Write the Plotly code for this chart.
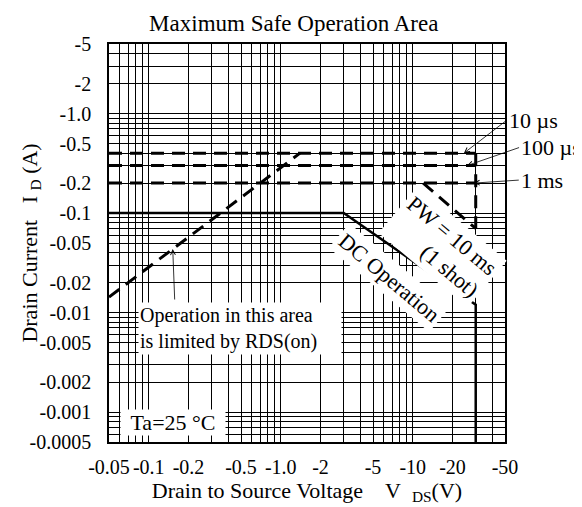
import numpy as np
import plotly.graph_objects as go

# ---- axis ticks (values as printed on the chart) ----
x_tickvals = [-0.05, -0.1, -0.2, -0.5, -1.0, -2, -5, -10, -20, -50]
x_ticktext = ["-0.05", "-0.1", "-0.2", "-0.5", "-1.0", "-2", "-5", "-10", "-20", "-50"]
y_tickvals = [-5, -2, -1.0, -0.5, -0.2, -0.1, -0.05, -0.02, -0.01, -0.005, -0.002, -0.001, -0.0005]
y_ticktext = ["-5", "-2", "-1.0", "-0.5", "-0.2", "-0.1", "-0.05", "-0.02", "-0.01",
              "-0.005", "-0.002", "-0.001", "-0.0005"]

# ---- curves (V_DS in V, I_D in A) ----
pw10us_v = [-0.05, -30]
pw10us_i = [-0.4, -0.4]
pw100us_v = [-0.05, -30]
pw100us_i = [-0.3, -0.3]
pw1ms_v = [-0.05, -30]
pw1ms_i = [-0.2, -0.2]
pw10ms_v = [-12, -30]
pw10ms_i = [-0.2, -0.07]
pulse_edge_v = [-30, -30]
pulse_edge_i = [-0.4, -0.07]
dc_v = [-0.05, -3, -30, -30]
dc_i = [-0.1, -0.1, -0.012, -0.0005]
rds_v = [-0.05, -1.4]
rds_i = [-0.0143, -0.4]

FONT = "Liberation Serif"


def mag(a):
    return np.abs(np.array(a, dtype=float))


def lg(v):
    return float(np.log10(abs(v)))


def minor_vals(lo, hi):
    out = []
    for e in range(-5, 3):
        for m in range(1, 10):
            v = m * 10.0 ** e
            if lo * 0.999 <= v <= hi * 1.001:
                out.append(v)
    return out


fig = go.Figure()
dash_style = dict(color="black", width=3, dash="13px,8px")
for vv, ii in [(pw10us_v, pw10us_i), (pw100us_v, pw100us_i), (pw1ms_v, pw1ms_i),
               (pw10ms_v, pw10ms_i), (pulse_edge_v, pulse_edge_i), (rds_v, rds_i)]:
    fig.add_trace(go.Scatter(x=mag(vv), y=mag(ii), mode="lines", line=dash_style,
                             showlegend=False, hoverinfo="skip"))
fig.add_trace(go.Scatter(x=mag(dc_v), y=mag(dc_i), mode="lines",
                         line=dict(color="black", width=2.5), showlegend=False, hoverinfo="skip"))

grid = dict(showgrid=True, gridcolor="black", gridwidth=1)

fig.update_xaxes(type="log", range=[lg(-0.05), lg(-50)], automargin=False,
                 tickmode="array", tickvals=mag(x_tickvals), ticktext=x_ticktext,
                 ticks="", ticklabelstandoff=6,
                 showline=True, linecolor="black", linewidth=1.5, mirror=True,
                 minor=dict(tickmode="array", tickvals=minor_vals(0.05, 50), **grid),
                 tickfont=dict(family=FONT, size=20, color="black"),
                 title=dict(text="Drain to Source Voltage\u00a0\u00a0\u00a0\u00a0V\u00a0\u00a0<sub>DS</sub>(V)",
                            font=dict(family=FONT, size=22, color="black"), standoff=2),
                 **grid)
fig.update_yaxes(type="log", range=[lg(-0.0005), lg(-5)], automargin=False,
                 tickmode="array", tickvals=mag(y_tickvals), ticktext=y_ticktext,
                 ticks="", ticklabelstandoff=12,
                 showline=True, linecolor="black", linewidth=1.5, mirror=True,
                 minor=dict(tickmode="array", tickvals=minor_vals(0.0005, 5), **grid),
                 tickfont=dict(family=FONT, size=20, color="black"),
                 **grid)

ann_font = dict(family=FONT, size=20, color="black")
big_font = dict(family=FONT, size=22, color="black")
arrow = dict(showarrow=True, arrowhead=5, arrowsize=1.2, arrowwidth=0.8, arrowcolor="black")

annotations = [
    # y axis title
    dict(xref="paper", yref="paper", x=-0.198, y=0.5,
         text="Drain Current\u00a0\u00a0\u00a0I\u00a0<sub>D</sub>\u00a0(A)",
         textangle=-90, showarrow=False, font=big_font, xanchor="center", yanchor="middle"),
    # RDS(on) note
    dict(x=lg(-0.083), y=lg(-0.0069), text="Operation in this area<br>is limited by RDS(on)",
         showarrow=False, align="left", xanchor="left", yanchor="middle", font=ann_font,
         bgcolor="white", width=200, borderpad=1),
    dict(x=lg(-0.152), y=lg(-0.0435), ax=2, ay=52, text="", **arrow),
    # Ta
    dict(x=lg(-0.061), y=lg(-0.00079), text="Ta=25 °C", showarrow=False, xanchor="left",
         yanchor="middle", font=big_font, bgcolor="white", width=104, borderpad=0),
    # rotated labels
    dict(x=lg(-6.6), y=lg(-0.0223), text="DC Operation", textangle=40, showarrow=False,
         font=big_font, bgcolor="white", borderpad=3),
    dict(x=lg(-16.9), y=lg(-0.0455), text="PW = 10 ms<br>(1 shot)", textangle=40, showarrow=False,
         align="right", font=big_font, bgcolor="white", borderpad=3),
    # pulse width labels with arrows
    dict(x=lg(-24.4), y=lg(-0.4), ax=43, ay=-33, text="10 µs", font=big_font,
         xanchor="left", yanchor="middle", **arrow),
    dict(x=lg(-25.8), y=lg(-0.3), ax=52, ay=-18, text="100 µs", font=big_font,
         xanchor="left", yanchor="middle", **arrow),
    dict(x=lg(-29), y=lg(-0.2), ax=45, ay=-3, text="1 ms", font=big_font,
         xanchor="left", yanchor="middle", **arrow),
]
fig.update_layout(annotations=annotations)

fig.update_layout(
    width=582, height=507,
    margin=dict(l=101, r=85, t=36, b=73),
    paper_bgcolor="white", plot_bgcolor="white",
    title=dict(text="Maximum Safe Operation Area", x=0.491, xanchor="center",
               y=1 - 15 / 507, yanchor="middle", yref="container",
               font=dict(family=FONT, size=23, color="black")),
    showlegend=False,
)

fig.write_html("out.html")
